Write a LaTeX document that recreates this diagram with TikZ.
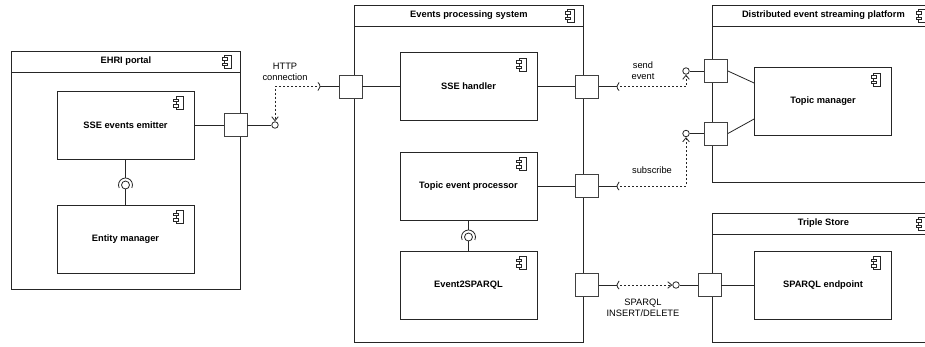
\documentclass[tikz,border=0pt]{standalone}
\usepackage{fontspec}
\setmainfont{Liberation Sans}
\usetikzlibrary{arrows.meta,calc}
\newcommand{\dnamefont}{\fontsize{9.3}{11}\selectfont\bfseries}
\newcommand{\dlblfont}{\fontsize{9.3}{11}\selectfont}
\begin{document}
\begin{tikzpicture}[x=1pt,y=-1pt,
  line width=0.8pt,
  comp/.style={draw=black!85, fill=white, minimum width=137pt, minimum height=68pt, inner sep=0pt, font=\dnamefont},
  outer/.style={draw=black!85, fill=white, anchor=north west, inner sep=0pt},
  port/.style={draw=black!75, fill=white, minimum size=23pt, inner sep=0pt},
  ball/.style={circle, draw=black!85, fill=white, minimum size=6.5pt, inner sep=0pt},
  bigball/.style={ball, minimum size=8pt},
  title/.style={font=\dnamefont, inner sep=0pt},
  lbl/.style={font=\dlblfont, align=center, inner sep=0pt},
  wire/.style={draw=black!85},
  dep/.style={draw=black!85, dash pattern=on 2pt off 2pt, -{Straight Barb[length=4pt,width=6.5pt]}},
  compicon/.pic={
    \draw[draw=black!85, fill=white, line width=0.7pt] (-3.5,-6.5) rectangle (3.5,6.5);
    \draw[draw=black!85, fill=white, line width=0.7pt] (-5.8,-4) rectangle (-1,-1.5);
    \draw[draw=black!85, fill=white, line width=0.7pt] (-5.8,1.5) rectangle (-1,4);
  }
]
\fill[white] (0,0) rectangle (925,346);
\useasboundingbox (0,0) rectangle (925,346);

% outer containers
\node[outer, minimum width=229pt, minimum height=238pt] (ehri) at (11,51) {};
\node[outer, minimum width=229pt, minimum height=337pt] (eps) at (354,5) {};
\node[outer, minimum width=222pt, minimum height=177pt] (desp) at (712,5) {};
\node[outer, minimum width=222pt, minimum height=129pt] (ts) at (712,213) {};

\foreach \b/\t in {ehri/EHRI portal, eps/Events processing system, desp/Distributed event streaming platform, ts/Triple Store}{
  \draw[wire] ([yshift=-21pt]\b.north west) -- ([yshift=-21pt]\b.north east);
  \node[title] (\b-title) at ([yshift=-10.5pt]\b.north) {\t};
  \pic at ([xshift=-12.5pt,yshift=-10.5pt]\b.north east) {compicon};
}

% inner components
\node[comp] (emit) at (125.5,125) {SSE events emitter};
\node[comp] (entity) at (125.5,239) {Entity manager};
\node[comp] (sseh) at (468.5,86.5) {SSE handler};
\node[comp] (tep) at (468.5,186) {Topic event processor};
\node[comp] (e2s) at (468.5,285) {Event2SPARQL};
\node[comp] (tm) at (823,101.5) {Topic manager};
\node[comp] (sparql) at (823,285) {SPARQL endpoint};
\foreach \c in {emit,entity,sseh,tep,e2s,tm,sparql}{
  \pic at ([xshift=-15pt,yshift=-12.5pt]\c.north east) {compicon};
}

% ports
\node[port] (p1) at (235.5,125) {};
\node[port] (p2) at (350.5,86.5) {};
\node[port] (p3) at (587,86.5) {};
\node[port] (p4) at (587,186) {};
\node[port] (p5) at (587,285) {};
\node[port] (p6) at (716,71) {};
\node[port] (p7) at (716,133.5) {};
\node[port] (p8) at (709.5,285) {};

% internal wires
\draw[wire] (emit.east) -- (p1.west);
\draw[wire] (p2.east) -- (sseh.west);
\draw[wire] (sseh.east) -- (p3.west);
\draw[wire] (tep.east) -- (p4.west);
\draw[wire] (p6.east) -- ([yshift=18.5pt]tm.west);
\draw[wire] (p7.east) -- ([yshift=-17.5pt]tm.west);
\draw[wire] (p8.east) -- (sparql.west);

% internal lollipops
\node[bigball] (b5) at (125.5,185) {};
\draw[wire] (emit.south) -- ([yshift=7pt]b5.center);
\draw[wire] ([shift={(155:7)}]b5.center) arc[start angle=155, end angle=385, radius=7];
\draw[wire] (b5.south) -- (entity.north);

\node[bigball] (b6) at (468.5,237) {};
\draw[wire] (tep.south) -- ([yshift=7pt]b6.center);
\draw[wire] ([shift={(155:7)}]b6.center) arc[start angle=155, end angle=385, radius=7];
\draw[wire] (b6.south) -- (e2s.north);

% provided interfaces (balls)
\node[ball] (b1) at (275,125) {};
\node[ball] (b2) at (686,71) {};
\node[ball] (b3) at (686,133.5) {};
\node[ball] (b4) at (676,285) {};
\draw[wire] (p1.east) -- (b1.west);
\draw[wire] (b2.east) -- (p6.west);
\draw[wire] (b3.east) -- (p7.west);
\draw[wire] (b4.east) -- (p8.west);

% required interfaces (sockets)
\coordinate (s1) at (320,86.5);
\coordinate (s2) at (617,86.5);
\coordinate (s3) at (617,186);
\coordinate (s4) at (617,285);
\draw[wire] (p2.west) -- (s1);
\draw[wire] ([shift={(-5,0)}]s1) ++(-55:5) arc[start angle=-55, end angle=55, radius=5];
\draw[wire] (p3.east) -- (s2);
\draw[wire] ([shift={(5,0)}]s2) ++(125:5) arc[start angle=125, end angle=235, radius=5];
\draw[wire] (p4.east) -- (s3);
\draw[wire] ([shift={(5,0)}]s3) ++(125:5) arc[start angle=125, end angle=235, radius=5];
\draw[wire] (p5.east) -- (s4);
\draw[wire] ([shift={(5,0)}]s4) ++(125:5) arc[start angle=125, end angle=235, radius=5];

% dependencies
\draw[dep] ([xshift=-3pt]s1) -| (b1.north);
\draw[dep] ([xshift=3pt]s2) -| (b2.south);
\draw[dep] ([xshift=3pt]s3) -| (b3.south);
\draw[dep] ([xshift=3pt]s4) -- (b4.west);

% labels
\node[lbl] (l1) at (285,71.5) {HTTP\\connection};
\node[lbl] (l2) at (643,70.5) {send\\event};
\node[lbl] (l3) at (652,170) {subscribe};
\node[lbl] (l4) at (643,307.5) {SPARQL\\INSERT/DELETE};
\end{tikzpicture}
\end{document}
